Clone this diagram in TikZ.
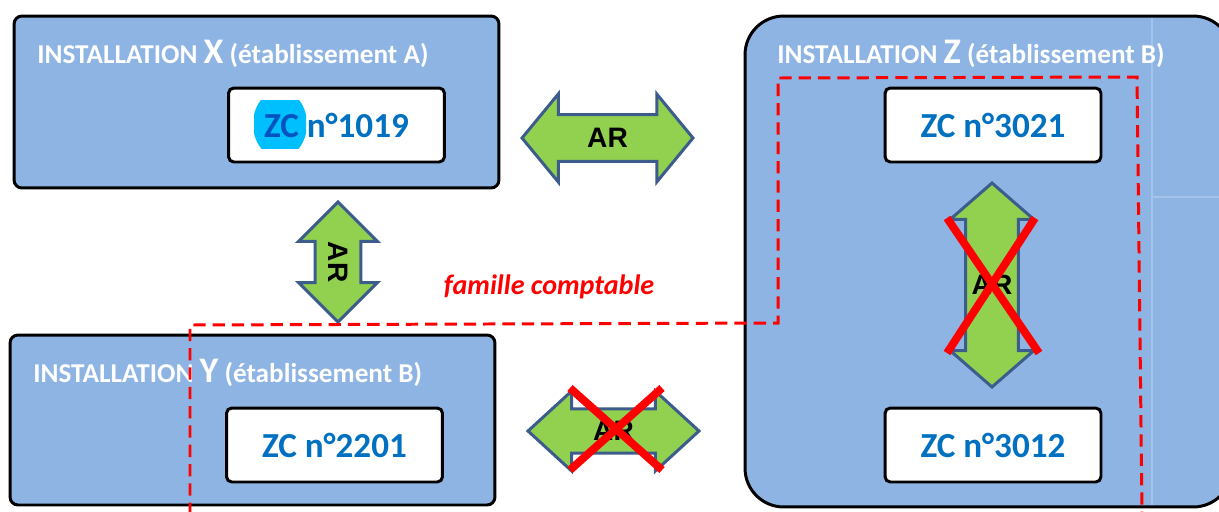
\documentclass[tikz,border=0pt]{standalone}
\usepackage{fontspec}
\setmainfont{Carlito}
\newfontfamily\arfont{Liberation Sans}
\usepackage{tikz}
\usetikzlibrary{shapes,arrows}
\definecolor{instBlue}{RGB}{142,180,227}
\definecolor{faintBlue}{RGB}{164,196,236}
\definecolor{zcBlue}{RGB}{0,112,192}
\definecolor{zcCyan}{RGB}{0,191,255}
\definecolor{arGreen}{RGB}{146,208,80}
\definecolor{arEdge}{RGB}{60,92,140}
\newcommand{\instletter}[1]{{\fontsize{20.5}{22}\selectfont #1}}

\begin{document}
\begin{tikzpicture}[x=0.02cm, y=-0.02cm]%
  \tikzset{inst box/.style={draw=black, line width=1.7pt, fill=instBlue, rectangle, rounded corners=4.5pt},
    zc box/.style={draw=black, line width=1.7pt, fill=white, rounded corners=3pt, minimum width=4.32cm, minimum height=1.48cm, inner sep=0pt, text=zcBlue, font=\fontsize{20}{24}\selectfont\bfseries},
    inst title/.style={anchor=base west, text=white, inner sep=0pt, font=\fontsize{15.5}{18}\selectfont\bfseries},
    ar arrow/.style={double arrow, draw=arEdge, line width=1.7pt, fill=arGreen, inner xsep=0pt, font=\arfont\fontsize{16}{19}\selectfont\bfseries},
    no way/.style={draw=red, line width=4.5pt}}

  \useasboundingbox (0,0) rectangle (1219,511);
  \clip (0,0) rectangle (1219,511);

  % installations
  \node[inst box, minimum width=9.7cm, minimum height=3.44cm] (instX) at (256.5,102) {};
  \node[inst box, minimum width=9.7cm, minimum height=3.4cm] (instY) at (252.5,420) {};
  \node[inst box, rounded corners=22pt, minimum width=9.74cm, minimum height=9.82cm] (instZ) at (988.5,261.5) {};
  \draw[faintBlue, line width=0.6pt] (1152,18) -- (1152,505) (1152,197) -- (1219,197);

  \node[inst title] (titleX) at (37,63) {INSTALLATION \instletter{X} (établissement A)};
  \node[inst title] (titleY) at (33,382) {INSTALLATION \instletter{Y} (établissement B)};
  \node[inst title] (titleZ) at (777,63) {INSTALLATION \instletter{Z} (établissement B)};

  % zones
  \node[zc box] (zc1019) at (336.5,125) {ZC n°1019};
  \node[zc box] (zc2201) at (334.5,445) {ZC n°2201};
  \node[zc box] (zc3021) at (993,125) {ZC n°3021};
  \node[zc box] (zc3012) at (993,445) {ZC n°3012};
  % highlight on ZC
  \begin{scope}
    \clip (254,100) rectangle (306,148);
    \fill[zcCyan, blend mode=multiply] (280,124) ellipse (27 and 34);
  \end{scope}

  % AR arrows
  \node[ar arrow, inner ysep=7pt, minimum height=3.42cm, minimum width=1.72cm, double arrow head extend=0.41cm, double arrow tip angle=101] (arXZ) at (607.5,138) {AR};
  \node[ar arrow, inner ysep=6.7pt, rotate=-90, minimum height=2.4cm, minimum width=1.54cm, double arrow head extend=0.33cm, double arrow tip angle=90] (arXY) at (338,262) {AR};
  \node[ar arrow, inner ysep=6.2pt, minimum height=3.42cm, minimum width=1.56cm, double arrow head extend=0.36cm, double arrow tip angle=85] (arYZ) at (613.5,431) {AR};
  \node[ar arrow, inner ysep=14.2pt, rotate=90, minimum height=4.08cm, minimum width=1.62cm, double arrow head extend=0.31cm, double arrow tip angle=98] (arZZ) at (992,285) {};
  \node[inner sep=0pt, font=\arfont\fontsize{16}{19}\selectfont\bfseries] (arZZtext) at (arZZ) {AR};

  \path[no way] (570,388) -- (662,470) (662,388) -- (570,470);
  \path[no way] (947,218) -- (1039,353) (1035,218) -- (947,353);

  % famille comptable
  \draw[red, line width=1.7pt, dash pattern=on 7pt off 4pt] (190,515) -- (190,325) -- (778,323) -- (778,78) -- (1137,77) -- (1142,515);
  \node[text=red, font=\fontsize{16}{19}\selectfont\bfseries\itshape] (famille) at (549,287) {famille comptable};

\end{tikzpicture}
\end{document}
